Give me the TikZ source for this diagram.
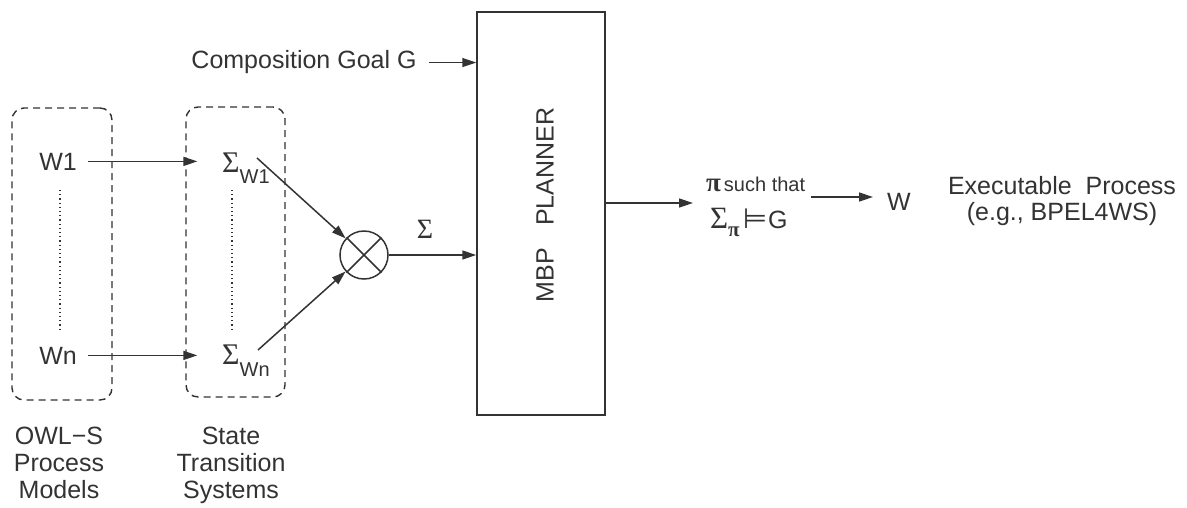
\documentclass[tikz,border=0pt]{standalone}
\usepackage{fontspec}
\setmainfont{Liberation Sans}
\newfontfamily\serif{Liberation Serif}
\newfontfamily\dejavu{DejaVu Sans}
\usetikzlibrary{arrows.meta,calc}
\definecolor{ink}{HTML}{333333}
\begin{document}
\begin{tikzpicture}[x=1pt,y=-1pt,
  line/.style={draw=ink, line width=1.5pt},
  arr/.style={line, -{Triangle[length=14pt,width=9pt]}},
  dbox/.style={draw=ink, line width=1.4pt, dash pattern=on 7pt off 5pt, rounded corners=12pt, inner sep=0pt},
  dots/.style={draw=ink, line width=1.2pt, dash pattern=on 1.2pt off 3pt},
  txt/.style={text=ink, font=\fontsize{25}{27}\selectfont, inner sep=0pt},
  sig/.style={text=ink, font=\serif\fontsize{30}{30}\selectfont, inner sep=0pt}]
\useasboundingbox (0,0) rectangle (1187,507);

% dashed groups
\node[dbox, minimum width=100pt, minimum height=292pt] (owl) at (62,254) {};
\node[dbox, minimum width=99pt, minimum height=290pt] (sts) at (235.5,252) {};

% process models
\node[txt, anchor=base] (w1) at (58,170) {W1};
\node[txt, anchor=base] (wn) at (58,364) {Wn};
\draw[dots] (60,190) -- (60,330);

% state transition systems
\node[sig, anchor=base west] (sw1) at (222,172) {Σ\raisebox{-11pt}{\normalfont\fontsize{20}{20}\selectfont W1}};
\node[sig, anchor=base west] (swn) at (222,364) {Σ\raisebox{-12pt}{\normalfont\fontsize{20}{20}\selectfont Wn}};
\draw[dots] (232,190) -- (232,330);

\draw[arr] ([xshift=11pt]w1.east) -- ($(w1.east -| sts.west)+(12,0)$);
\draw[arr] ([xshift=11pt]wn.east) -- ($(wn.east -| sts.west)+(12,0)$);

% product
\node[draw=ink, line width=1.5pt, circle, minimum size=48pt, inner sep=0pt] (mix) at (364,255) {};
\draw[line] (mix.north west) -- (mix.south east) (mix.north east) -- (mix.south west);
\coordinate (s1) at (257,158);
\coordinate (s2) at (258,350);
\draw[arr] (s1) -- (mix);
\draw[arr] (s2) -- (mix);
\node[sig, font=\serif\fontsize{28}{28}\selectfont] (sigma) at (425,229) {Σ};

% planner
\node[draw=ink, line width=1.5pt, minimum width=128pt, minimum height=403pt, inner sep=0pt] (planner) at (541,213.5) {};
\node[txt, rotate=90] (pltxt) at (545,205) {MBP\hspace{0.9em}PLANNER};
\draw[arr] (mix.east) -- (mix.east -| planner.west);

\node[txt, anchor=base] (goal) at (304,68) {Composition Goal G};
\draw[arr] ([xshift=12pt,yshift=-1pt]goal.east) -- ([yshift=-1pt]goal.east -| planner.west);

% result
\coordinate (pout) at (693,203);
\draw[arr] (planner.east |- pout) -- (pout);
\node[anchor=base west, inner sep=0pt, text=ink] (such) at (706,191)
  {{\serif\bfseries\fontsize{27}{27}\selectfont π}\hspace{3pt}{\fontsize{20}{20}\selectfont such that}};
\node[anchor=base west, inner sep=0pt, text=ink] (res) at (710,228)
  {{\serif\fontsize{31}{31}\selectfont Σ}\raisebox{-8pt}{\serif\bfseries\fontsize{21}{21}\selectfont π}\hspace{3pt}{\dejavu\fontsize{28}{28}\selectfont ⊨}\hspace{1pt}{\fontsize{25}{25}\selectfont G}};
\node[txt, anchor=base west] (w) at (887,210) {W};
\draw[arr] ([xshift=6pt]such.east |- 0,197) -- ([xshift=-14pt]w.west |- 0,197);

\node[txt, anchor=north, align=center, font=\fontsize{25}{26}\selectfont] (exe) at (1062,176) {Executable\ \ Process\\(e.g., BPEL4WS)};

% bottom labels
\node[txt, anchor=north, align=center] (lab1) at (59,427) {OWL−S\\Process\\Models};
\node[txt, anchor=north, align=center] (lab2) at (231,427) {State\\Transition\\Systems};
\end{tikzpicture}
\end{document}
